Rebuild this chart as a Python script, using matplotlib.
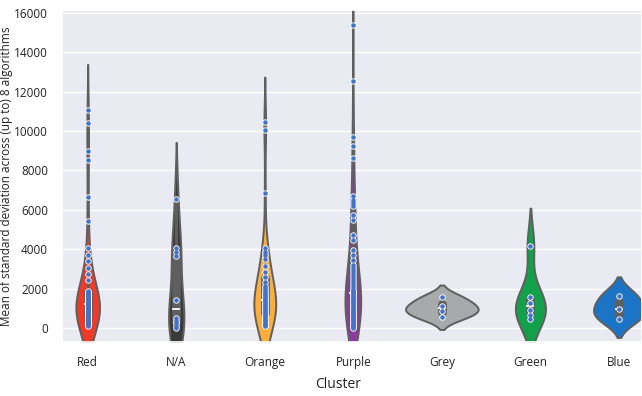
import matplotlib
matplotlib.use("Agg")
import matplotlib.pyplot as plt
import seaborn as sns
import pandas as pd

# Cluster order and fill colours
clusters = ["Red", "N/A", "Orange", "Purple", "Grey", "Green", "Blue"]
colors = ["#EF3A2A", "#3A3A3A", "#FBAE3C", "#8A3D9F", "#A8A9AB", "#12A04A", "#1C74C6"]

# Mean of standard deviation per feature, one list per cluster
red = [11090, 10420, 9010, 8540, 6630, 5450, 4060, 3720, 3380, 3050, 2760, 2420,
       1860, 1820, 1770, 1730, 1680, 1640, 1590, 1550, 1510, 1460, 1420, 1380,
       1330, 1290, 1240, 1200, 1160, 1110, 1070, 1030, 980, 940, 900, 860,
       810, 770, 730, 690, 640, 600, 560, 510, 470, 430, 390, 340, 300,
       260, 220, 180, 140, 110]
na = [6550, 4050, 3850, 3650, 1440, 500, 380, 250, 120, 20]
orange = [10450, 10050, 6850, 4050, 3880, 3700, 3480, 3150, 2850, 2580, 2350,
          2150, 2050, 1950, 1850, 1750, 1660, 1560, 1480, 1400, 1320, 1250,
          1180, 1100, 1030, 950, 880, 800, 730, 650, 580, 500, 430, 350, 280,
          200, 140, 90]
purple = [15370, 12530, 9680, 9260, 8640, 6690, 6520, 6350, 6180, 5760, 5500,
          4740, 4490, 3980, 3720, 3470, 3220, 3050, 2900, 2750, 2600, 2450, 2300,
          2150, 2000, 1900, 1850, 1780, 1700, 1620, 1550, 1480, 1400, 1330,
          1250, 1180, 1100, 1030, 950, 880, 820, 760, 700, 640, 580, 520,
          460, 400, 340, 280, 220, 160, 110, 60, 20]
grey = [1550, 1130, 880, 560]
green = [4180, 1550, 1270, 930, 680, 460]
blue = [1650, 970, 470]

values = [red, na, orange, purple, grey, green, blue]
df = pd.DataFrame({
    "Cluster": [c for c, v in zip(clusters, values) for _ in v],
    "value": [x for v in values for x in v],
})

sns.set_theme(style="darkgrid")
plt.rcParams["font.family"] = ["Open Sans", "DejaVu Sans"]

fig = plt.figure(figsize=(6.42, 3.96), dpi=100)
ax = fig.add_axes([62 / 642, 54 / 396, 1 - 62 / 642, 332 / 396])

sns.violinplot(data=df, x="Cluster", y="value", order=clusters, hue="Cluster",
               hue_order=clusters, palette=colors, legend=False, ax=ax,
               linecolor="#5f5f5f", linewidth=1.4, saturation=1, width=0.82,
               common_norm=True)

# points: white halo underneath, blue cores on top
sns.stripplot(data=df, x="Cluster", y="value", order=clusters, jitter=False,
              color="white", size=4.6, linewidth=0, ax=ax)
sns.stripplot(data=df, x="Cluster", y="value", order=clusters, jitter=False,
              color="#4472C4", size=3.3, linewidth=0, ax=ax)

ax.set_xlim(-0.29, 6.26)
ax.set_ylim(-710, 16150)
ax.set_yticks(range(0, 16001, 2000))
ax.tick_params(axis="both", labelsize=8.5, pad=4, colors="#222222")
ax.set_xlabel("Cluster", fontsize=10, color="#222222")
ax.xaxis.set_label_coords((338 - 62) / 580, -0.105)
ax.set_ylabel("Mean of standard deviation across (up to) 8 algorithms",
              fontsize=8.5, color="#222222")
ax.yaxis.set_label_coords(-0.085, 0.5)

fig.savefig("out.png", dpi=100)
